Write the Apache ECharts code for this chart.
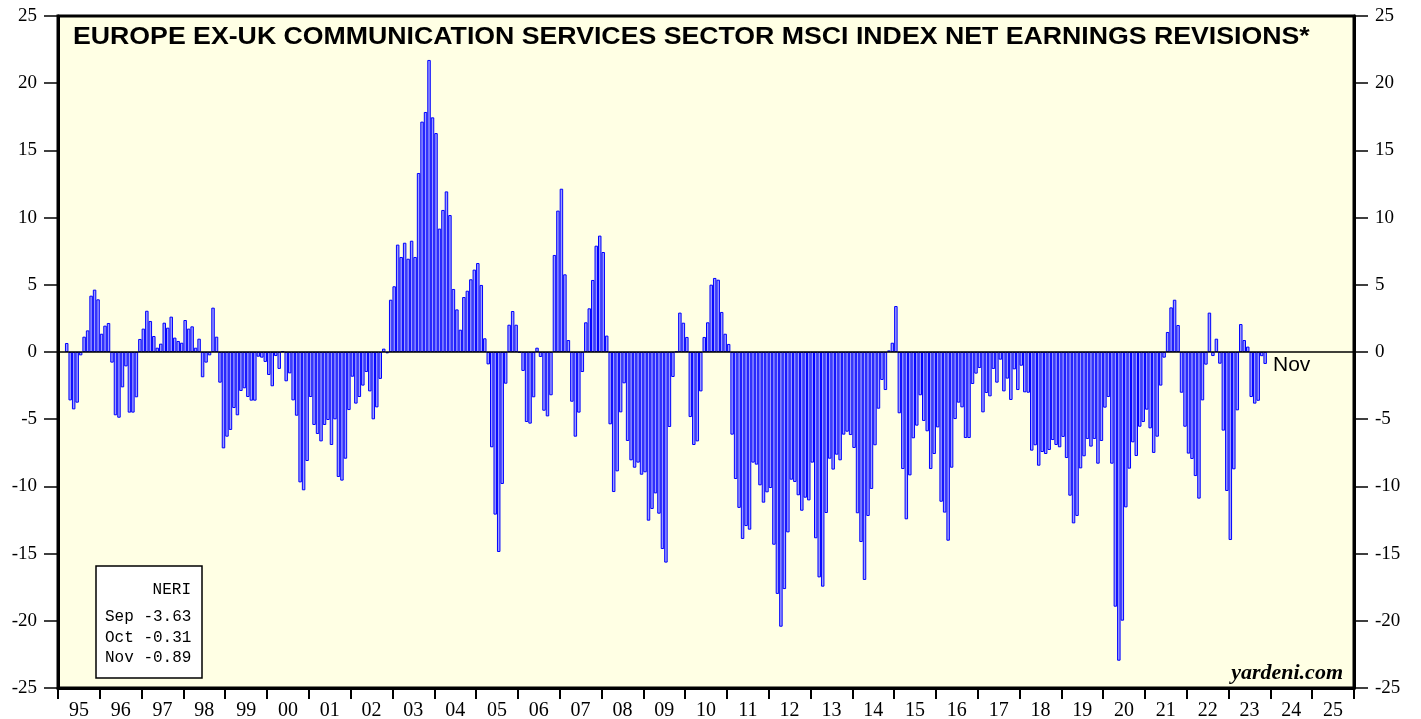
<!DOCTYPE html>
<html>
<head>
<meta charset="utf-8">
<title>Europe ex-UK Communication Services NERI</title>
<script src="https://cdn.jsdelivr.net/npm/echarts/dist/echarts.min.js"></script>
<style>
  html, body { margin: 0; padding: 0; background: #fff; }
  #chart { width: 1421px; height: 719px; }
</style>
</head>
<body>
<div id="chart"></div>
<script>
// x axis: one label per year, bars are monthly
const yearLabels = ['95', '96', '97', '98', '99', '00', '01', '02', '03', '04', '05', '06', '07', '08', '09',
  '10', '11', '12', '13', '14', '15', '16', '17', '18', '19', '20', '21', '22', '23', '24', '25']
const yTicks = [-25, -20, -15, -10, -5, 0, 5, 10, 15, 20, 25]

// net earnings revisions, monthly, starting Mar 1995 (one line per year)
const firstMonth = 2
const neri = [
  0.67, -3.6, -4.27, -3.77, -0.25, 1.14, 1.61, 4.19, 4.64, 3.92,
  1.36, 1.96, 2.16, -0.79, -4.71, -4.89, -2.63, -1.07, -4.51, -4.51, -3.37, 0.97,
  1.74, 3.07, 2.31, 1.19, 0.32, 0.62, 2.18, 1.81, 2.63, 1.07, 0.82, 0.69,
  2.38, 1.74, 1.91, 0.32, 0.99, -1.88, -0.79, -0.25, 3.3, 1.14, -2.28, -7.17,
  -6.3, -5.8, -4.17, -4.71, -2.9, -2.7, -3.35, -3.62, -3.62, -0.35, -0.42, -0.74,
  -1.71, -2.55, -0.3, -1.26, 0.05, -2.18, -1.59, -3.6, -4.74, -9.7, -10.29, -8.11,
  -3.35, -5.43, -6.1, -6.65, -5.43, -5.06, -6.92, -5.01, -9.3, -9.57, -7.94, -4.32,
  -1.84, -3.84, -3.35, -2.5, -1.49, -2.93, -5.01, -4.12, -2.0, 0.25, -0.1, 3.89,
  4.89, 7.99, 7.07, 8.13, 6.94, 8.28, 7.07, 13.32, 17.14, 17.86, 21.73, 17.46,
  16.29, 9.18, 10.57, 11.95, 10.19, 4.69, 3.17, 1.66, 4.09, 4.56, 5.41, 6.13,
  6.62, 4.99, 1.02, -0.92, -7.09, -12.1, -14.88, -9.82, -2.36, 2.03, 3.05, 2.03,
  -0.05, -1.41, -5.21, -5.33, -3.37, 0.32, -0.37, -4.37, -4.79, -3.22, 7.22, 10.52,
  12.15, 5.78, 0.89, -3.7, -6.3, -4.51, -1.49, 2.21, 3.25, 5.36, 7.91, 8.66,
  7.44, 1.22, -5.38, -10.42, -8.88, -4.49, -2.33, -6.62, -8.06, -8.61, -8.23, -9.13,
  -8.95, -12.55, -11.68, -10.52, -12.03, -14.66, -15.67, -5.58, -1.86, 0.05, 2.93, 2.18,
  1.12, -4.84, -6.92, -6.65, -2.93, 1.12, 2.21, 5.01, 5.51, 5.38, 2.98, 1.36,
  0.6, -6.15, -9.45, -11.6, -13.91, -12.95, -13.22, -8.23, -8.38, -9.92, -11.21, -10.44,
  -10.12, -14.34, -18.0, -20.44, -17.64, -13.42, -9.5, -9.67, -10.66, -11.81, -10.84, -11.04,
  -8.23, -13.86, -16.77, -17.46, -11.98, -7.94, -8.75, -7.64, -8.06, -6.15, -5.93, -6.18,
  -7.14, -12.0, -14.14, -16.96, -12.2, -10.19, -6.94, -4.22, -2.08, -2.83, 0.12, 0.69,
  3.42, -4.56, -8.71, -12.45, -9.18, -6.42, -5.48, -3.22, -5.13, -5.9, -8.71, -7.59,
  -5.61, -11.14, -11.95, -14.04, -8.61, -4.99, -3.77, -4.12, -6.4, -6.4, -2.38, -1.61,
  -1.19, -4.49, -3.05, -3.3, -1.26, -2.28, -0.57, -2.93, -1.98, -3.57, -1.29, -2.83,
  -1.02, -3.0, -3.03, -7.34, -6.94, -8.46, -7.44, -7.59, -7.29, -6.55, -6.92, -7.09,
  -6.32, -7.89, -10.69, -12.75, -12.2, -8.66, -7.76, -6.47, -7.04, -6.47, -8.31, -6.62,
  -4.14, -3.35, -8.31, -18.95, -22.97, -19.99, -11.56, -8.68, -6.72, -7.74, -5.56, -5.21,
  -4.29, -5.68, -7.51, -6.3, -2.5, -0.42, 1.49, 3.32, 3.89, 2.01, -3.03, -5.56,
  -7.56, -7.96, -9.23, -10.91, -3.6, -0.94, 2.93, -0.3, 0.99, -0.87, -5.85, -10.34,
  -13.99, -8.73, -4.34, 2.08, 0.89, 0.4, -3.35, -3.84, -3.63, -0.31, -0.89
]

// last three readings for the box
const boxMonths = ['Sep', 'Oct', 'Nov']
const boxValues = [-3.63, -0.31, -0.89]

const months = []
yearLabels.forEach((y) => {
  for (let m = 1; m <= 12; m++) months.push(y + '-' + m)
})
const barData = months.map((_, i) => {
  const k = i - firstMonth
  return k >= 0 && k < neri.length ? neri[k] : null
})

const serif = '"Liberation Serif", "Times New Roman", serif'
const sans = '"Liberation Sans", Arial, sans-serif'
const mono = '"Liberation Mono", "Courier New", monospace'

const chart = echarts.init(document.getElementById('chart'), null, { renderer: 'canvas' })

const yAxisBase = {
  type: 'value',
  min: yTicks[0],
  max: yTicks[yTicks.length - 1],
  interval: 5,
  axisLine: { show: true, lineStyle: { color: '#000', width: 3 } },
  axisTick: { show: true, inside: false, length: 14, lineStyle: { color: '#000', width: 1.5 } },
  axisLabel: { color: '#000', fontFamily: serif, fontSize: 19, margin: 21 },
  splitLine: { show: false }
}

chart.setOption({
  animation: false,
  backgroundColor: '#fff',
  grid: {
    left: 58,
    right: 67,
    top: 16,
    bottom: 31,
    outerBoundsMode: 'none',
    show: true,
    backgroundColor: '#ffffe4',
    borderColor: '#000',
    borderWidth: 3
  },
  xAxis: [{
    type: 'category',
    data: yearLabels,
    position: 'bottom',
    axisLine: { show: true, onZero: false, lineStyle: { color: '#000', width: 3 } },
    axisTick: { show: true, inside: false, length: 11, lineStyle: { color: '#000', width: 2 } },
    axisLabel: { color: '#000', fontFamily: serif, fontSize: 20, margin: 13 },
    splitLine: { show: false }
  }, {
    type: 'category',
    data: months,
    show: false,
    axisLine: { onZero: false }
  }],
  yAxis: [
    Object.assign({}, yAxisBase, { position: 'left' }),
    Object.assign({}, yAxisBase, { position: 'right' })
  ],
  series: [{
    name: 'NERI',
    type: 'bar',
    xAxisIndex: 1,
    yAxisIndex: 0,
    barCategoryGap: '0%',
    data: barData,
    itemStyle: { color: '#9c9cff', borderColor: '#0000ff', borderWidth: 1 },
    markLine: {
      silent: true,
      symbol: 'none',
      label: { show: false },
      lineStyle: { color: '#000', type: 'solid', width: 1.5 },
      data: [{ yAxis: 0 }]
    }
  }],
  graphic: [
    {
      type: 'text',
      x: 73,
      y: 37,
      scaleX: 1.112,
      style: {
        text: 'EUROPE EX-UK COMMUNICATION SERVICES SECTOR MSCI INDEX NET EARNINGS REVISIONS*',
        x: 0, y: 0,
        textVerticalAlign: 'middle',
        font: 'bold 24px ' + sans,
        fill: '#000'
      }
    },
    {
      type: 'text',
      style: {
        text: 'Nov', x: 1273, y: 365, textVerticalAlign: 'middle',
        font: '21px ' + sans, fill: '#000'
      }
    },
    {
      type: 'rect',
      shape: { x: 96, y: 566, width: 106, height: 112 },
      style: { fill: '#fff', stroke: '#000', lineWidth: 1.5 }
    },
    {
      type: 'text',
      style: {
        text: 'NERI', x: 191, y: 590, textAlign: 'right', textVerticalAlign: 'middle',
        font: '16px ' + mono, fill: '#000'
      }
    },
    ...boxMonths.map((m, i) => ({
      type: 'text',
      style: {
        text: m + ' ' + boxValues[i].toFixed(2), x: 105, y: 617 + i * 20.5,
        textVerticalAlign: 'middle', font: '16px ' + mono, fill: '#000'
      }
    })),
    {
      type: 'text',
      style: {
        text: 'yardeni.com', x: 1343, y: 673, textAlign: 'right', textVerticalAlign: 'middle',
        font: 'italic bold 22px ' + serif, fill: '#000'
      }
    }
  ]
})

window.addEventListener('resize', () => {
  chart.resize()
})
</script>
</body>
</html>
